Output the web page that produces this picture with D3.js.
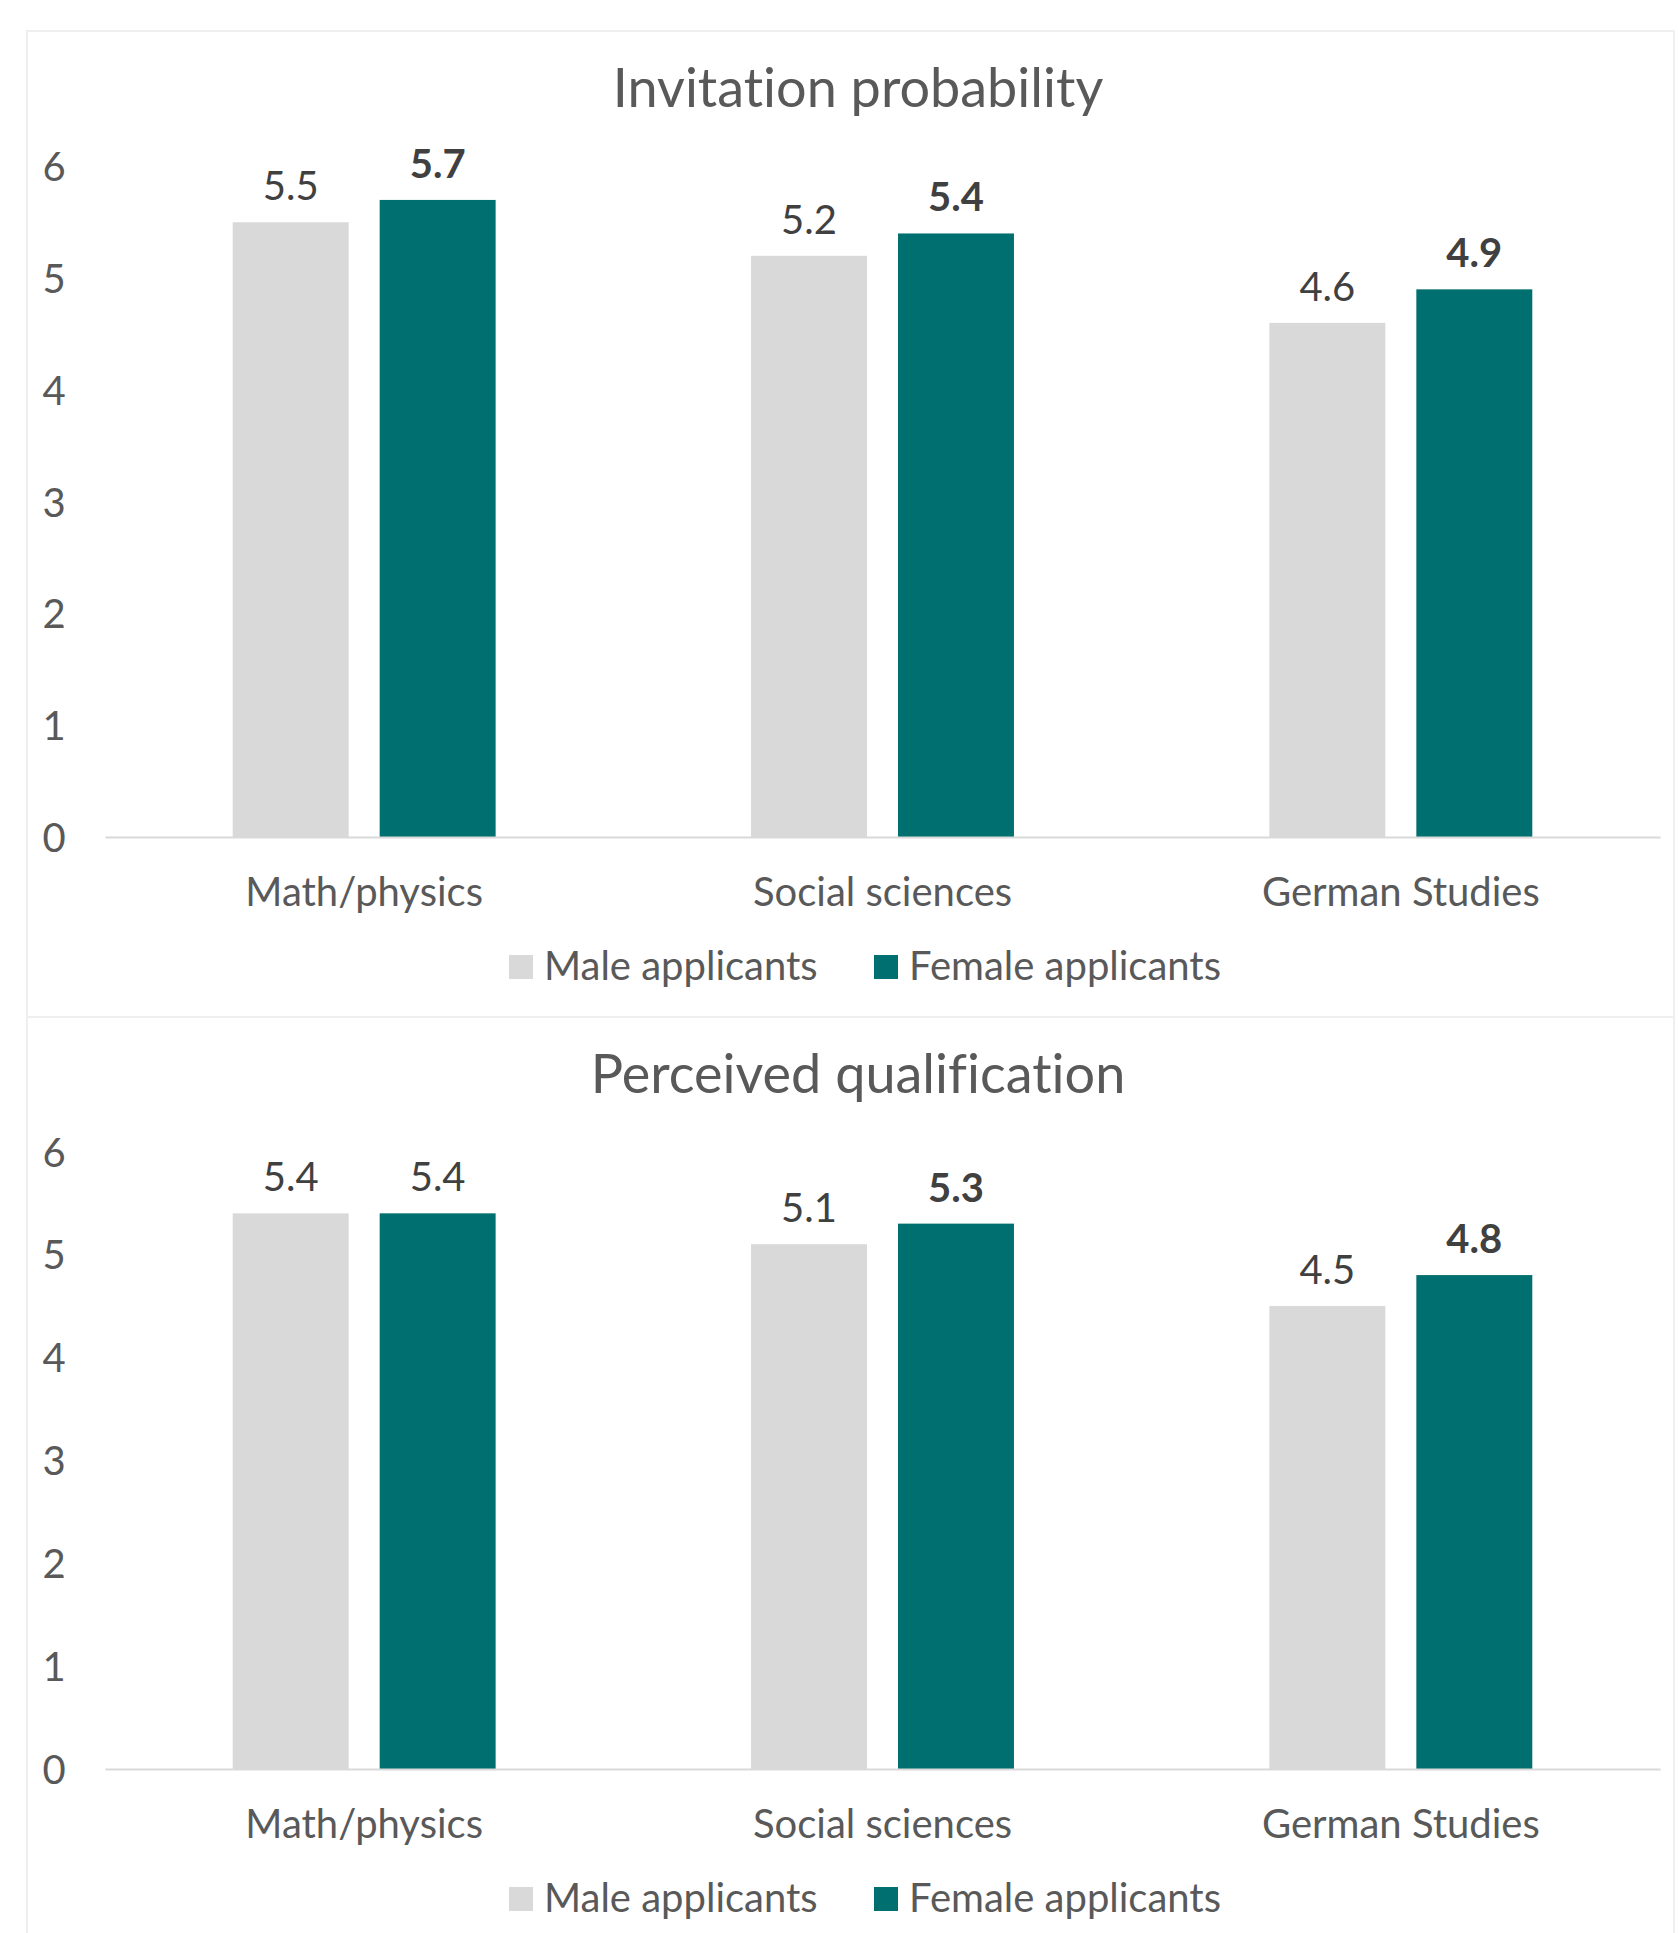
<!DOCTYPE html>
<html>
<head>
<meta charset="utf-8">
<script src="https://cdn.jsdelivr.net/npm/d3@7"></script>
<style>
  html, body { margin: 0; padding: 0; background: #ffffff; }
  svg { display: block; }
  text { font-family: Lato, "Open Sans", sans-serif; font-variant-ligatures: none; }
</style>
</head>
<body>
<svg id="chart" width="1678" height="1933"></svg>
<script>
// Fields of study shown on the x axis
const categories = ["Math/physics", "Social sciences", "German Studies"];
// Applicant groups (bar series)
const seriesNames = ["Male applicants", "Female applicants"];
// Mean ratings per field, one array per panel and group
const invitationMale = [5.5, 5.2, 4.6];
const invitationFemale = [5.7, 5.4, 4.9];
const qualificationMale = [5.4, 5.1, 4.5];
const qualificationFemale = [5.4, 5.3, 4.8];
// Y axis ticks
const yTicks = [0, 1, 2, 3, 4, 5, 6];

const colors = { "Male applicants": "#d9d9d9", "Female applicants": "#006f6f" };

const svg = d3.select("#chart");

const panels = [
  { title: "Invitation probability", male: invitationMale, female: invitationFemale,
    top: 31, height: 986, yTop: 166.4, yBottom: 837 },
  { title: "Perceived qualification", male: qualificationMale, female: qualificationFemale,
    top: 1017, height: 1000, yTop: 1151.6, yBottom: 1769 }
];

const x = d3.scaleBand().domain(categories).range([105, 1660]).padding(0);
const xs = d3.scaleBand().domain(seriesNames).range([0, x.bandwidth()])
  .paddingInner(0.211).paddingOuter(0.869);

panels.forEach(p => {
  const g = svg.append("g");

  // panel frame
  g.append("rect")
    .attr("x", 27).attr("y", p.top)
    .attr("width", 1647).attr("height", p.height)
    .attr("fill", "none").attr("stroke", "#efefef").attr("stroke-width", 2);

  // title
  g.append("text")
    .attr("x", 858).attr("y", p.top + 76)
    .attr("text-anchor", "middle")
    .attr("font-size", 54).attr("fill", "#595959")
    .text(p.title);

  const y = d3.scaleLinear().domain([0, 6]).range([p.yBottom, p.yTop]);

  // y axis labels
  const yAxis = d3.axisLeft(y).tickValues(yTicks).tickFormat(d3.format("d")).tickSize(0).tickPadding(0);
  const ya = g.append("g").attr("transform", "translate(66,0)").call(yAxis);
  ya.select(".domain").remove();
  ya.selectAll("text")
    .attr("font-family", "Lato, 'Open Sans', sans-serif")
    .attr("font-size", 40).attr("fill", "#595959")
    .attr("text-anchor", "middle").attr("x", -12).attr("dy", "0.36em");

  // bars
  const rows = categories.map((c, i) => ({ cat: c, values: [
    { s: "Male applicants", v: p.male[i] },
    { s: "Female applicants", v: p.female[i] }
  ]}));

  const groups = g.selectAll(".grp").data(rows).enter().append("g")
    .attr("transform", d => `translate(${x(d.cat)},0)`);

  groups.selectAll("rect").data(d => d.values).enter().append("rect")
    .attr("x", d => xs(d.s))
    .attr("y", d => y(d.v))
    .attr("width", xs.bandwidth())
    .attr("height", d => y(0) - y(d.v))
    .attr("fill", d => colors[d.s]);

  // value labels; the female value is emphasised where it exceeds the male value
  groups.selectAll("text.val").data(d => d.values.map(v => ({ ...v, other: d.values[0].v }))).enter()
    .append("text").attr("class", "val")
    .attr("x", d => xs(d.s) + xs.bandwidth() / 2)
    .attr("y", d => y(d.v) - 22)
    .attr("text-anchor", "middle")
    .attr("font-size", 40)
    .attr("font-weight", d => (d.s === "Female applicants" && d.v > d.other) ? 700 : 400)
    .attr("fill", "#404040")
    .text(d => d3.format(".1f")(d.v));

  // baseline and category axis
  const xAxis = d3.axisBottom(x).tickSize(0).tickPadding(0);
  const xa = g.append("g").attr("transform", `translate(0,${p.yBottom})`).call(xAxis);
  xa.select(".domain").attr("stroke", "#d9d9d9").attr("stroke-width", 2);
  xa.selectAll("text")
    .attr("font-family", "Lato, 'Open Sans', sans-serif")
    .attr("font-size", 40).attr("fill", "#595959")
    .attr("y", 69).attr("dy", 0);

  // legend
  const legendX = [509, 874];
  const lg = g.selectAll(".leg").data(seriesNames).enter().append("g")
    .attr("transform", (d, i) => `translate(${legendX[i]},${p.yBottom + 118})`);
  lg.append("rect").attr("width", 24).attr("height", 24).attr("fill", d => colors[d]);
  lg.append("text").attr("x", 35).attr("y", 25)
    .attr("font-size", 40).attr("fill", "#595959")
    .text(d => d);
});
</script>
</body>
</html>
